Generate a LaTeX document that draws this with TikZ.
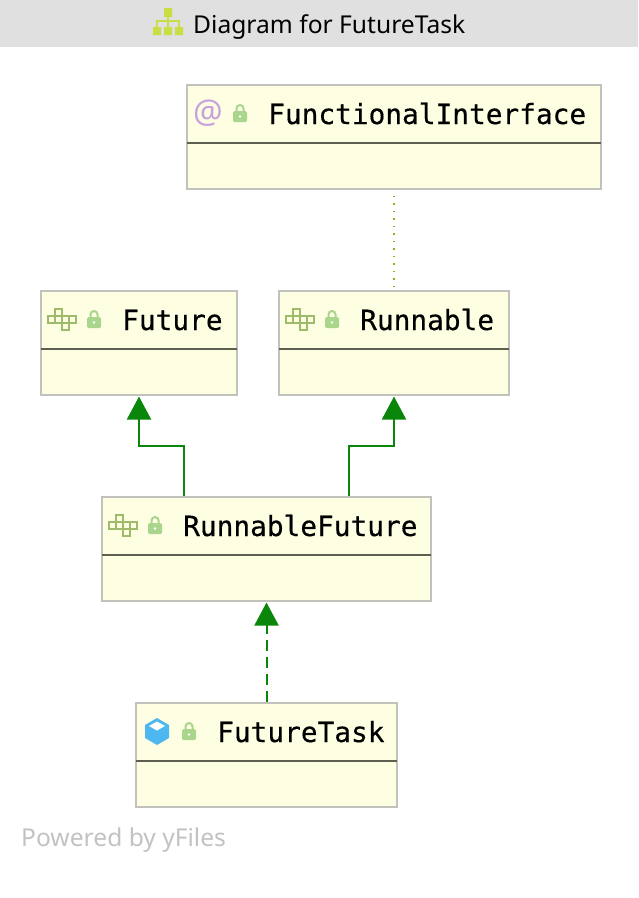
\documentclass[tikz,border=0pt]{standalone}
\usepackage{fontspec}
\setmainfont{Noto Sans}
\newfontfamily\classfont[FakeBold=0.4]{DejaVu Sans Mono}
\usetikzlibrary{arrows.meta}

\definecolor{barfill}{HTML}{E0E0E0}
\definecolor{boxfill}{HTML}{FEFEE3}
\definecolor{boxedge}{HTML}{C2C2BC}
\definecolor{sepline}{HTML}{5F5F50}
\definecolor{edgegreen}{HTML}{0A860A}
\definecolor{dotgreen}{HTML}{94A824}
\definecolor{lockgreen}{HTML}{A9D58C}
\definecolor{ifacegreen}{HTML}{9DBB6A}
\definecolor{treegreen}{HTML}{C9DE45}
\definecolor{cubeblue}{HTML}{4DB8F0}
\definecolor{atpurple}{HTML}{C8A2DC}

\tikzset{
  classbox/.style={draw=boxedge,fill=boxfill,line width=2pt,minimum height=104pt,inner sep=0pt},
  classname/.style={anchor=base west,inner sep=0pt,font=\classfont\fontsize{27.8}{30}\selectfont},
  inherits/.style={draw=edgegreen,line width=2pt,-{Triangle[length=23pt,width=24pt]},shorten >=0.5pt},
  sep/.style={draw=sepline,line width=2pt},
  pics/lockicon/.style={code={
    \draw[lockgreen,line width=2pt] (3.5,8) -- (3.5,4.5) arc[start angle=180,end angle=360,radius=3.5] -- (10.5,8);
    \fill[lockgreen,rounded corners=1.5pt] (0,7) rectangle (14,18);
    \fill[white] (7,12.5) circle (1.3);
  }},
  pics/ifaceicon/.style={code={
    \foreach \cx/\cy in {1/0,0/1,1/1,2/1,3/1,2/2}
      \draw[ifacegreen,line width=2.5pt] (\cx*7,\cy*7) rectangle ++(7,7);
  }},
  pics/cubeicon/.style={code={
    \fill[cubeblue] (12,0) -- (24,7) -- (24,20) -- (12,27) -- (0,20) -- (0,7) -- cycle;
    \fill[white] (12,3.5) -- (20,8) -- (12,12.5) -- (4,8) -- cycle;
  }},
}

\begin{document}
\begin{tikzpicture}[x=1pt,y=-1pt]
\useasboundingbox (0,0) rectangle (638,898);
% title bar
\fill[barfill] (0,0) rectangle (638,47);
\fill[treegreen] (164,8) rectangle (172,17)
      (153,27) rectangle (161,35) (164,27) rectangle (172,35) (175,27) rectangle (183,35);
\draw[treegreen,line width=2pt] (168,17) -- (168,27) (157,27) -- (157,21) -- (179,21) -- (179,27);
\node[anchor=base west,inner sep=0pt,font=\fontsize{24.6}{30}\selectfont] (title) at (193,33) {Diagram for FutureTask};
% classes
\node[classbox,minimum width=414pt] (functional) at (394,137) {};
\node[classbox,minimum width=196pt] (future) at (139,343) {};
\node[classbox,minimum width=230pt] (runnable) at (394,343) {};
\node[classbox,minimum width=329pt] (runnablefuture) at (266.5,549) {};
\node[classbox,minimum width=261pt] (futuretask) at (266.5,755) {};
\node[classname] (functionallabel) at ([shift={(82,40)}]functional.north west) {FunctionalInterface};
\node[classname] (futurelabel) at ([shift={(82,40)}]future.north west) {Future};
\node[classname] (runnablelabel) at ([shift={(82,40)}]runnable.north west) {Runnable};
\node[classname] (runnablefuturelabel) at ([shift={(82,40)}]runnablefuture.north west) {RunnableFuture};
\node[classname] (futuretasklabel) at ([shift={(82,40)}]futuretask.north west) {FutureTask};
% separators and icons
\foreach \cname in {functional,future,runnable,runnablefuture,futuretask} {
  \draw[sep] ([shift={(1,59)}]\cname.north west) -- ([shift={(-1,59)}]\cname.north east);
  \pic at ([shift={(47,20)}]\cname.north west) {lockicon};
}
\foreach \cname in {future,runnable,runnablefuture}
  \pic at ([shift={(8,19)}]\cname.north west) {ifaceicon};
\pic at ([shift={(10,16)}]futuretask.north west) {cubeicon};
\node[inner sep=0pt,text=atpurple,font=\fontsize{33}{34}\selectfont\bfseries] (aticon) at ([shift={(22,29)}]functional.north west) {@};
% connectors
\draw[inherits] ([xshift=-82.5pt]runnablefuture.north) -- ++(0,-50) -| (future.south);
\draw[inherits] ([xshift=82.5pt]runnablefuture.north) -- ++(0,-50) -| (runnable.south);
\draw[inherits,dash pattern=on 11pt off 6pt] (futuretask.north) -- (runnablefuture.south);
\draw[dotgreen,line width=1.5pt,dash pattern=on 1.5pt off 6pt,shorten >=6pt,shorten <=3pt] (runnable.north) -- (functional.south);
% footer
\node[anchor=base west,inner sep=0pt,text=black!24,font=\fontsize{24.6}{26}\selectfont] (powered) at (21,846) {Powered by yFiles};
\end{tikzpicture}
\end{document}
